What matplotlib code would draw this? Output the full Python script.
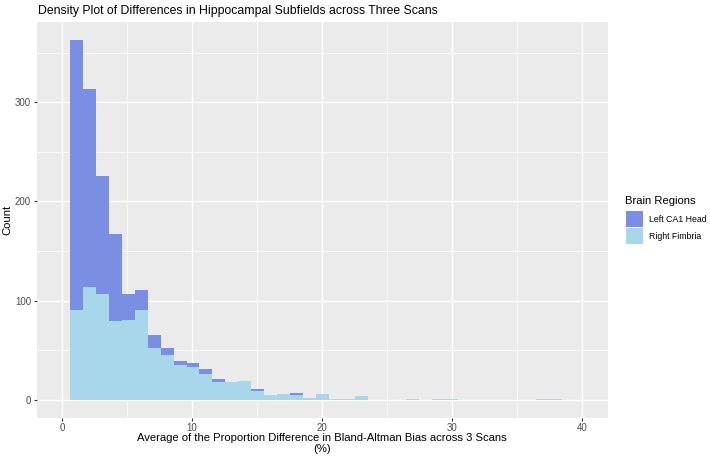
import numpy as np
from matplotlib import pyplot as plt
from matplotlib.patches import Rectangle

# =============================================================================
# Data (counts per bin, stacked)
# =============================================================================
bin_start = 0.62
bin_width = 0.995

# Right Fimbria (bottom layer)
right_fimbria = [90, 114, 107, 79, 80, 90, 52, 45, 35, 33, 26, 18, 18, 19, 9,
                 5, 6, 5, 2, 6, 1, 1, 4, 0, 0, 0, 1, 0, 1, 1, 0, 0, 0, 0, 0,
                 0, 1, 1]
# Left CA1 Head (stacked on top)
left_ca1_head = [273, 199, 119, 88, 27, 21, 13, 7, 4, 4, 5, 3, 0, 0, 2,
                 0, 0, 2, 0, 0, 0, 0, 0, 0, 0, 0, 0, 0, 0, 0, 0, 0, 0, 0, 0,
                 0, 0, 0]

regions = ['Left CA1 Head', 'Right Fimbria']
x_ticks = [0, 10, 20, 30, 40]
y_ticks = [0, 100, 200, 300]

# =============================================================================
# Plot
# =============================================================================
plt.rcParams['font.family'] = ['Liberation Sans', 'DejaVu Sans']

W, H = 710, 462
fig = plt.figure(figsize=(W/100, H/100), dpi=100)
ax = fig.add_axes([36.7/W, 1-417.7/H, (607.7-36.7)/W, (417.7-21.7)/H])

lefts = bin_start + bin_width*np.arange(len(right_fimbria))
rf = np.array(right_fimbria)
lc = np.array(left_ca1_head)

colors = ['#7A8EE3', '#A8D7EB']

ax.bar(lefts, rf, width=bin_width, align='edge', color=colors[1], linewidth=0, zorder=3)
ax.bar(lefts, lc, width=bin_width, bottom=rf, align='edge', color=colors[0], linewidth=0, zorder=3)

# ggplot grey theme
ax.set_facecolor('#EBEBEB')
for s in ax.spines.values():
    s.set_visible(False)
ax.set_xlim(-1.95, 41.98)
ax.set_ylim(-18.15, 381.15)
ax.set_xticks(x_ticks)
ax.set_yticks(y_ticks)
ax.set_xticks([5, 15, 25, 35], minor=True)
ax.set_yticks([50, 150, 250, 350], minor=True)
ax.grid(which='major', color='white', linewidth=1.0, zorder=0)
ax.grid(which='minor', color='white', linewidth=0.5, zorder=0)
ax.set_axisbelow(True)
ax.tick_params(which='major', length=2.5, width=0.8, color='#333333',
               labelsize=7, labelcolor='#4D4D4D', pad=1.5)
ax.tick_params(which='minor', length=0)

ax.set_xlabel('Average of the Proportion Difference in Bland-Altman Bias across 3 Scans\n(%)',
              size=8.1, linespacing=1.15, va='center')
ax.xaxis.set_label_coords(0.5, -(443.5 - 417.7)/396)
ax.set_ylabel('Count', size=8.1, va='center')
ax.yaxis.set_label_coords(-(36.7 - 7.5)/571, 0.5)

fig.text(37.7/W, 1-14/H, 'Density Plot of Differences in Hippocampal Subfields across Three Scans',
         size=8.8, ha='left', va='baseline')

# legend drawn by hand, ggplot style
fig.text(625/W, 1-203.5/H, 'Brain Regions', size=8.1, ha='left', va='baseline')
key_top = 210.7
key_h = 17.2
for i, (name, c) in enumerate(zip(regions, colors)):
    y0 = key_top + i*key_h
    fig.add_artist(Rectangle((626/W, 1-(y0+16.6)/H), 16.6/W, 16.6/H,
                             transform=fig.transFigure, facecolor=c, edgecolor='none'))
    fig.text(649/W, 1-(y0+8.3)/H, name, size=6.3, ha='left', va='center')

plt.savefig('out.png', dpi=100)
